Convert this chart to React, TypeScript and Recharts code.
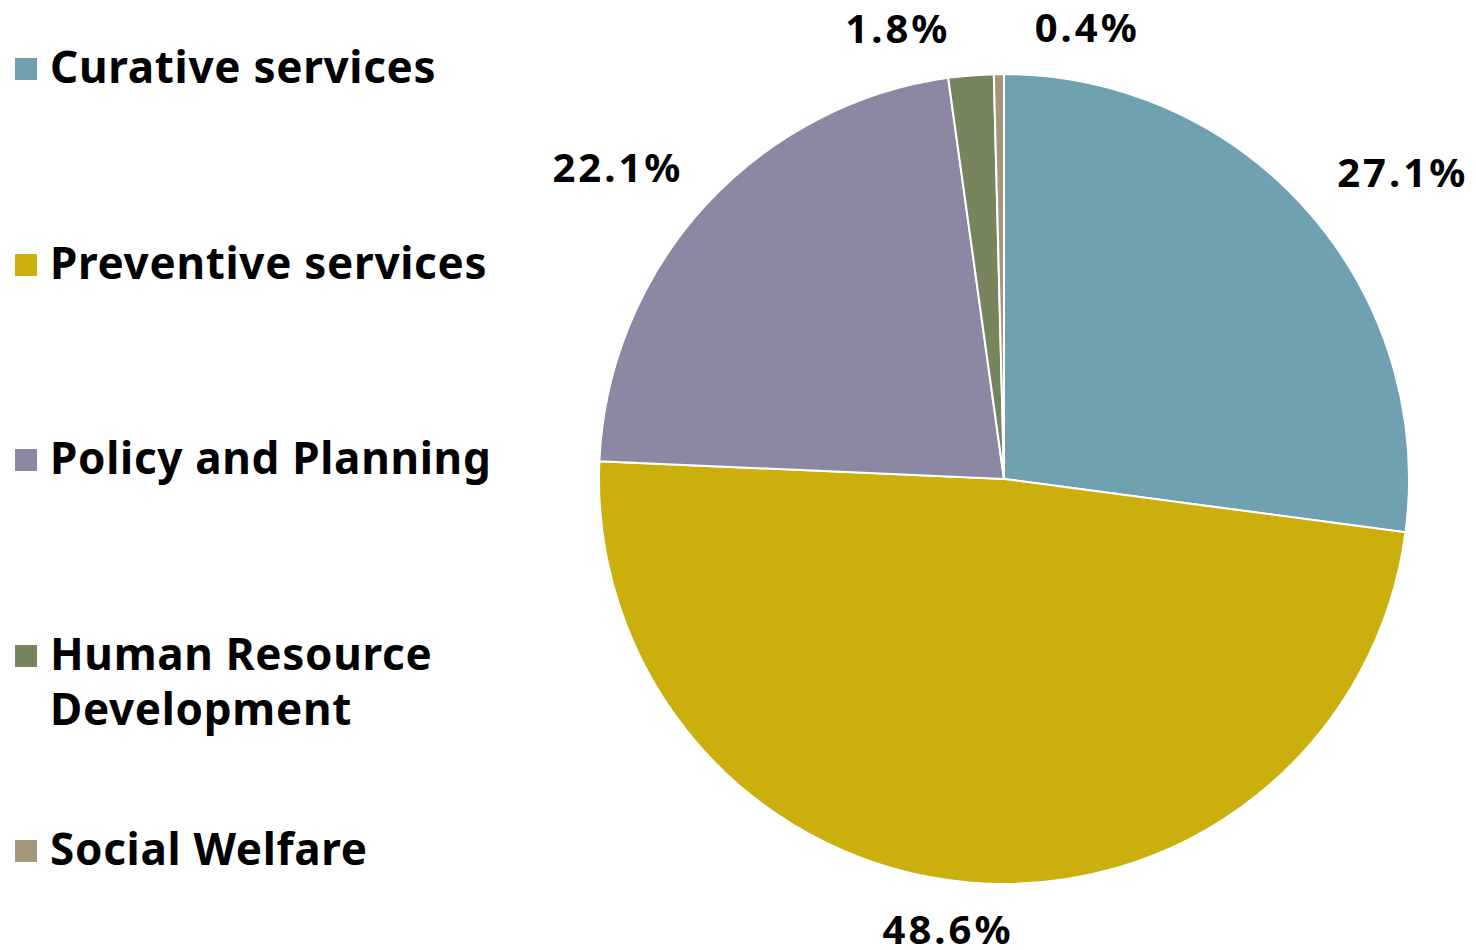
import React from "react";
import { PieChart, Pie, Cell, Legend } from "recharts";

const categories = [
  "Curative services",
  "Preventive services",
  "Policy and Planning",
  "Human Resource Development",
  "Social Welfare",
];
const shares = [27.1, 48.6, 22.1, 1.8, 0.4];
const colors = ["#6fa1b0", "#cbaf0c", "#8c88a4", "#76855e", "#a5977a"];
// legend lines (HRD wraps on two lines)
const legendLines = [
  ["Curative services"],
  ["Preventive services"],
  ["Policy and Planning"],
  ["Human Resource", "Development"],
  ["Social Welfare"],
];
// small nudges so the tiny top slices' labels don't collide
const labelNudgeX = [-9, -16, 16, -69, 89];
const labelNudgeY = [-8, -4, -6, 2, 2];

const data = categories.map((name, i) => ({ name, value: shares[i] }));

const FONT = "'Noto Sans', 'DejaVu Sans', sans-serif";
const RAD = Math.PI / 180;

const renderLabel = (props: any) => {
  const { cx, cy, midAngle, outerRadius, index, value } = props;
  const r = outerRadius + 50;
  const cos = Math.cos(-midAngle * RAD);
  const sin = Math.sin(-midAngle * RAD);
  const x = cx + r * cos + labelNudgeX[index];
  const y = cy + r * sin + labelNudgeY[index];
  const anchor = cos > 0.3 ? "start" : cos < -0.3 ? "end" : "middle";
  return (
    <text
      x={x}
      y={y}
      textAnchor={anchor}
      dominantBaseline="central"
      fill="#000"
      fontFamily={FONT}
      fontWeight={700}
      fontSize={40}
      letterSpacing={3}
    >
      {value.toFixed(1)}%
    </text>
  );
};

const renderLegend = () => (
  <div style={{ fontFamily: FONT, fontWeight: 700, fontSize: 44, color: "#000", letterSpacing: 0.7 }}>
    {legendLines.map((lines, i) => (
      <div
        key={categories[i]}
        style={{ position: "absolute", left: 15, top: 39 + i * 195.5, lineHeight: "55px" }}
      >
        <span
          style={{
            position: "absolute",
            left: 0,
            top: 19,
            width: 22,
            height: 22,
            background: colors[i],
          }}
        />
        <div style={{ marginLeft: 35, whiteSpace: "nowrap" }}>
          {lines.map((l) => (
            <div key={l}>{l}</div>
          ))}
        </div>
      </div>
    ))}
  </div>
);

export default function App() {
  return (
    <div style={{ position: "absolute", left: 0, top: 0, width: 1476, height: 950, background: "#fff" }}>
      <PieChart width={1476} height={950} margin={{ top: 0, right: 0, bottom: 0, left: 0 }}>
        <Legend
          content={renderLegend}
          wrapperStyle={{ position: "absolute", left: 0, top: 0, width: 560, height: 950 }}
        />
        <Pie
          data={data}
          dataKey="value"
          nameKey="name"
          cx={1004}
          cy={479}
          outerRadius={405}
          startAngle={90}
          endAngle={-270}
          stroke="#fff"
          strokeWidth={2}
          label={renderLabel}
          labelLine={false}
          isAnimationActive={false}
        >
          {data.map((d, i) => (
            <Cell key={d.name} fill={colors[i]} />
          ))}
        </Pie>
      </PieChart>
    </div>
  );
}
